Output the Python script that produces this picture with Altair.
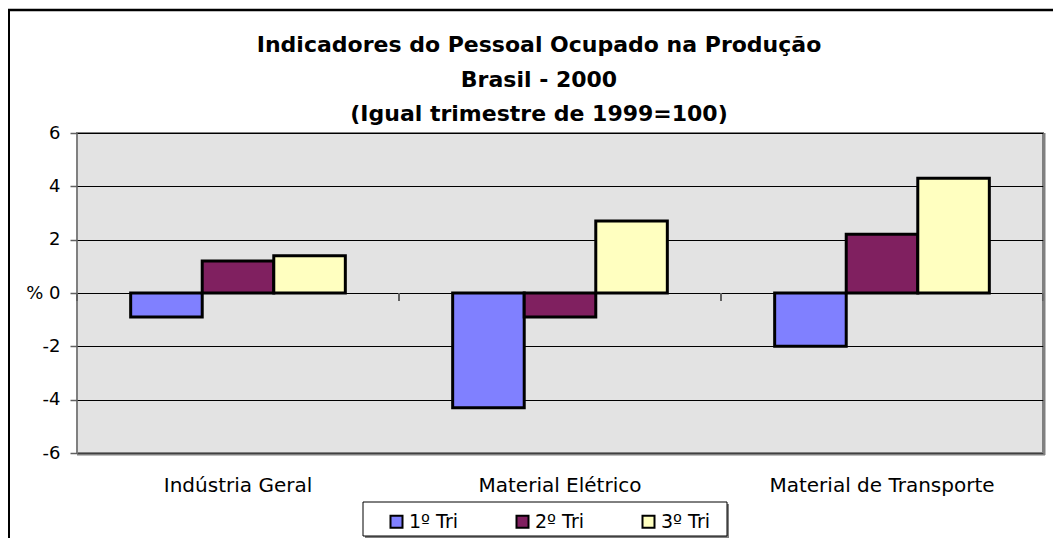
import altair as alt
import pandas as pd

categories = ["Indústria Geral", "Material Elétrico", "Material de Transporte"]
series_names = ["1º Tri", "2º Tri", "3º Tri"]
tri1 = [-0.9, -4.3, -2.0]
tri2 = [1.2, -0.9, 2.2]
tri3 = [1.4, 2.7, 4.3]
colors = ["#8080FF", "#802060", "#FFFFC0"]
y_ticks = [-6, -4, -2, 0, 2, 4, 6]
title_lines = ["Indicadores do Pessoal Ocupado na Produção", "Brasil - 2000", "(Igual trimestre de 1999=100)"]

rows = []
for name, vals in zip(series_names, [tri1, tri2, tri3]):
    for c, v in zip(categories, vals):
        rows.append({"cat": c, "tri": name, "value": v})
df = pd.DataFrame(rows)

FONT = "DejaVu Sans"
W, H = 966, 320

xscale = alt.Scale(domain=categories, paddingInner=0, paddingOuter=0)
yscale = alt.Scale(domain=[-6, 6], nice=False)

bars = alt.Chart(df).mark_bar(stroke="black", strokeWidth=3).encode(
    x=alt.X("cat:N", sort=categories, scale=xscale,
            axis=alt.Axis(title=None, domain=False, ticks=False, tickSize=0, labelPadding=22,
                          labelFont=FONT, labelFontSize=20, labelColor="black", labelAngle=0,
                          labelLimit=0, grid=False)),
    xOffset=alt.XOffset("tri:N", sort=series_names,
                        scale=alt.Scale(domain=series_names, paddingInner=0, paddingOuter=0.75)),
    y=alt.Y("value:Q", scale=yscale,
            axis=alt.Axis(title=None, values=y_ticks, domain=False, ticks=True, tickSize=7,
                          tickColor="#606060", tickWidth=1.5, labelPadding=10,
                          labelFont=FONT, labelFontSize=18, labelColor="black",
                          labelExpr="datum.value == 0 ? '% 0' : '' + datum.value",
                          grid=True, gridColor="#000000", gridWidth=1)),
    color=alt.Color("tri:N", sort=series_names,
                    scale=alt.Scale(domain=series_names, range=colors),
                    legend=alt.Legend(title=None, orient="none", direction="horizontal",
                                      legendX=310, legendY=379, padding=0,
                                      symbolType="square", symbolSize=144,
                                      symbolStrokeColor="black", symbolStrokeWidth=2,
                                      labelFont=FONT, labelFontSize=19, labelColor="black",
                                      labelOffset=3, columnPadding=54)),
)

cat_df = pd.DataFrame({"cat": categories})
ticks_left = alt.Chart(cat_df).mark_rule(color="#606060", strokeWidth=2).encode(
    x=alt.X("cat:N", sort=categories, scale=xscale, bandPosition=0),
    y=alt.Y(datum=0, scale=yscale),
    y2=alt.Y2(datum=-0.3),
)
ticks_right = alt.Chart(pd.DataFrame({"cat": [categories[-1]]})).mark_rule(color="#606060", strokeWidth=2).encode(
    x=alt.X("cat:N", sort=categories, scale=xscale, bandPosition=1),
    y=alt.Y(datum=0, scale=yscale),
    y2=alt.Y2(datum=-0.3),
)

one = alt.InlineData(values=[{"k": 1}])
shadow_r = alt.Chart(one).mark_rule(color="#808080", strokeWidth=2).encode(
    x=alt.value(W + 1.5), y=alt.value(0), y2=alt.value(H + 2))
shadow_b = alt.Chart(one).mark_rule(color="#808080", strokeWidth=2).encode(
    x=alt.value(0), x2=alt.value(W + 2), y=alt.value(H + 1.5))

legend_shadow = alt.Chart(one).mark_rect(fill="#808080").encode(
    x=alt.value(288), x2=alt.value(652), y=alt.value(371), y2=alt.value(406))
legend_box = alt.Chart(one).mark_rect(fill="white", stroke="black", strokeWidth=1).encode(
    x=alt.value(286), x2=alt.value(650), y=alt.value(369), y2=alt.value(403))

border_top = alt.Chart(one).mark_rule(color="black", strokeWidth=2.5).encode(
    x=alt.value(-69.5), x2=alt.value(1000), y=alt.value(-123))
border_left = alt.Chart(one).mark_rule(color="black", strokeWidth=3).encode(
    x=alt.value(-68.5), y=alt.value(-124), y2=alt.value(420))

title_layers = []
for line, ypos in zip(title_lines, [-88, -53.5, -19]):
    title_layers.append(
        alt.Chart(one).mark_text(font=FONT, fontSize=22, fontWeight="bold", color="black",
                                 align="center", baseline="middle").encode(
            x=alt.value(462), y=alt.value(ypos), text=alt.value(line))
    )

chart = alt.layer(
    bars, ticks_left, ticks_right, shadow_r, shadow_b, legend_shadow, legend_box,
    border_top, border_left, *title_layers
).properties(
    width=W, height=H,
    background="white",
    padding={"left": 69, "top": 125, "right": 10, "bottom": 85},
    autosize=alt.AutoSizeParams(type="none"),
).configure_view(
    fill="#E3E3E3", stroke="#808080", strokeWidth=2
)

chart.save("out.html", embed_options={"renderer": "svg", "actions": False})
